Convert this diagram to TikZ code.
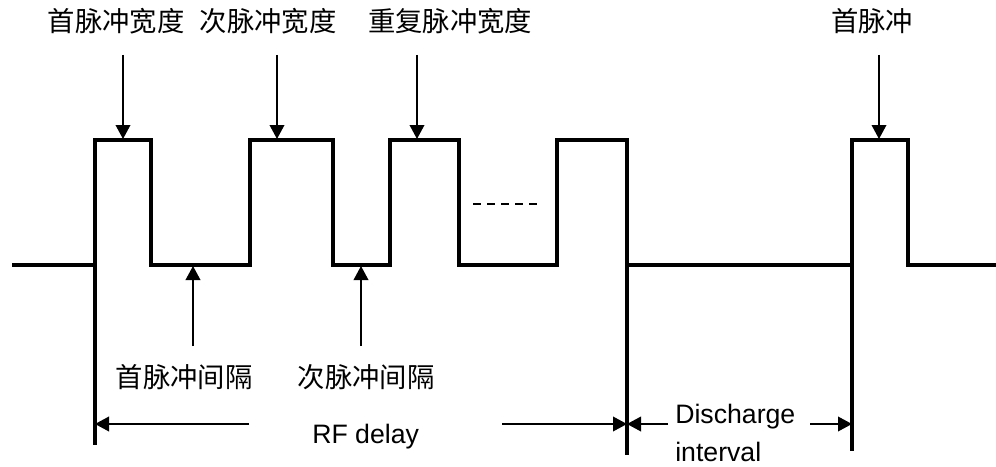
\documentclass[tikz,border=0pt]{standalone}
\usepackage{fontspec}
\setmainfont{Liberation Sans}
\newfontfamily\cjk{Noto Sans CJK SC}
\usetikzlibrary{arrows.meta}
\begin{document}
\begin{tikzpicture}[x=0.75pt,y=-0.75pt,
  wave/.style={line width=2.3pt, line join=miter},
  arr/.style={line width=1.1pt, -{Triangle[length=10.5pt,width=11pt]}},
  cn/.style={font=\cjk\fontsize{20.5}{24}\selectfont, inner sep=0pt, anchor=base},
  en/.style={font=\fontsize{20}{24}\selectfont, inner sep=0pt, anchor=base west}]
\useasboundingbox (0,0) rectangle (996,467);
% waveform
\draw[wave] (12,265) -- (95,265) -- (95,140) -- (151,140) -- (151,265) -- (250,265) -- (250,140) -- (333,140) -- (333,265) -- (390,265) -- (390,140) -- (459,140) -- (459,265) -- (557,265) -- (557,140) -- (627,140) -- (627,265) -- (852,265) -- (852,140) -- (908,140) -- (908,265) -- (996,265);
% vertical markers
\coordinate (m1) at (95,265); \coordinate (m1b) at (95,445);
\coordinate (m2) at (627,265); \coordinate (m2b) at (627,455);
\coordinate (m3) at (852,265); \coordinate (m3b) at (852,451);
\draw[wave] (m1) -- (m1b);
\draw[wave] (m2) -- (m2b);
\draw[wave] (m3) -- (m3b);
% dashes
\draw[line width=1.1pt, dash pattern=on 6pt off 4.5pt] (473,204) -- (537,204);
% top labels
\node[cn] (t1) at (116,32) {首脉冲宽度};
\node[cn] (t2) at (268,32) {次脉冲宽度};
\node[cn] (t3) at (450,32) {重复脉冲宽度};
\node[cn] (t4) at (872,32) {首脉冲};
\coordinate (a1s) at (123,55); \coordinate (a1e) at (123,139);
\coordinate (a2s) at (277,55); \coordinate (a2e) at (277,139);
\coordinate (a3s) at (417,55); \coordinate (a3e) at (417,139);
\coordinate (a4s) at (879,55); \coordinate (a4e) at (879,139);
\draw[arr] (a1s) -- (a1e);
\draw[arr] (a2s) -- (a2e);
\draw[arr] (a3s) -- (a3e);
\draw[arr] (a4s) -- (a4e);
% bottom labels
\node[cn] (b1) at (184,387) {首脉冲间隔};
\node[cn] (b2) at (366,387) {次脉冲间隔};
\coordinate (u1s) at (193,346); \coordinate (u1e) at (193,266);
\coordinate (u2s) at (361,346); \coordinate (u2e) at (361,266);
\draw[arr] (u1s) -- (u1e);
\draw[arr] (u2s) -- (u2e);
% RF delay
\node[en] (rf) at (312,443) {RF delay};
\coordinate (r1) at (249,424); \coordinate (r2) at (502,424);
\draw[arr] (r1) -- (m1 |- r1);
\draw[arr] (r2) -- (m2 |- r2);
% Discharge interval
\node[en] (dc) at (675,423) {Discharge};
\node[en] (di) at (675,461) {interval};
\coordinate (d1) at (668,424); \coordinate (d2) at (810,424);
\draw[arr] (d1) -- (m2 |- d1);
\draw[arr] (d2) -- (m3 |- d2);
\end{tikzpicture}
\end{document}
